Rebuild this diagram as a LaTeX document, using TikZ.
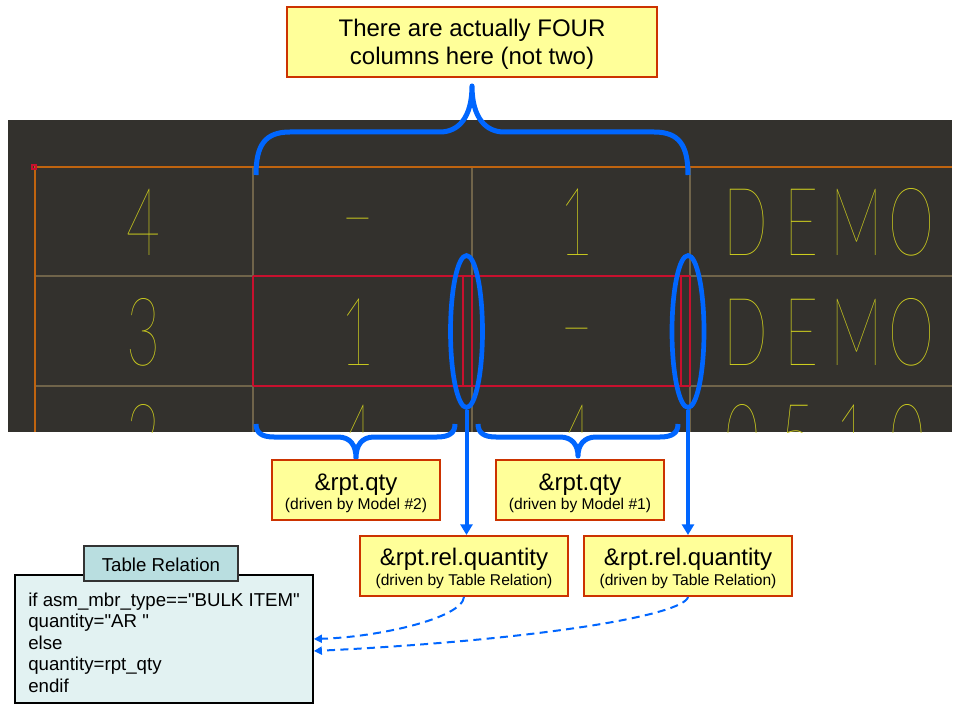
\documentclass[tikz,border=0pt]{standalone}
\usepackage{fontspec}
\setmainfont{Liberation Sans}[Ligatures=TeXOff]
\IfFontExistsTF{Lato Hairline}{\newfontfamily\cadfont{Lato Hairline}[FakeStretch=0.62]}{%
 \IfFontExistsTF{Lato Thin}{\newfontfamily\cadfont{Lato Thin}[FakeStretch=0.62]}{%
  \IfFontExistsTF{Poppins Thin}{\newfontfamily\cadfont{Poppins Thin}[FakeStretch=0.55]}{%
   \IfFontExistsTF{DejaVu Sans ExtraLight}{\newfontfamily\cadfont{DejaVu Sans ExtraLight}[FakeStretch=0.55]}{%
    \newfontfamily\cadfont{Liberation Sans}[FakeStretch=0.6]}}}}
\usetikzlibrary{shapes.geometric,arrows.meta}
\definecolor{cadbg}{RGB}{51,49,45}
\definecolor{cadorange}{RGB}{192,100,15}
\definecolor{cadtan}{RGB}{112,100,74}
\definecolor{cadred}{RGB}{200,16,46}
\definecolor{cadyel}{RGB}{205,205,30}
\definecolor{hlblue}{RGB}{0,102,255}
\definecolor{noteyel}{RGB}{255,255,153}
\definecolor{noteedge}{RGB}{204,51,0}
\definecolor{relfill}{RGB}{226,242,242}
\definecolor{relhead}{RGB}{185,222,224}
\newcommand\cadch[1]{\makebox[41.25pt][c]{#1}}
\newcommand\caddash{\scalebox{1.7}[1]{-}}
\begin{document}
\begin{tikzpicture}[x=0.75pt,y=-0.75pt,
  notebox/.style={draw=noteedge, fill=noteyel, line width=1.5pt, inner sep=0pt},
  bigtxt/.style={anchor=base, inner sep=0pt, font=\fontsize{18}{21}\selectfont},
  subtxt/.style={anchor=base, inner sep=0pt, font=\fontsize{11.7}{14}\selectfont},
  reltxt/.style={anchor=base west, inner sep=0pt, font=\fontsize{14}{16}\selectfont},
  cadtxt/.style={anchor=base, inner sep=0pt, text=cadyel, font={\fontsize{71}{71}\cadfont}},
  cadrow/.style={cadtxt, anchor=base west},
  tanline/.style={draw=cadtan, line width=0.9pt},
  redline/.style={draw=cadred, line width=0.9pt},
  hlbrace/.style={draw=hlblue, line width=3.75pt, line join=round},
  hlring/.style={ellipse, draw=hlblue, line width=3.5pt, inner sep=0pt, minimum width=24pt, minimum height=114pt},
  hlarrow/.style={draw=hlblue, line width=3pt, -{Triangle[length=8pt,width=9pt]}},
  dasharrow/.style={draw=hlblue, line width=1.5pt, dash pattern=on 6pt off 4pt, -{Triangle[length=6pt,width=6pt]}}
]
\useasboundingbox (0,0) rectangle (960,720);
\fill[white] (0,0) rectangle (960,720);

% CAD table
\fill[cadbg] (8,120) rectangle (952,432);
\begin{scope}
  \clip (8,120) rectangle (952,432);
  \draw[tanline] (35,276) -- (952,276);
  \draw[tanline] (35,386) -- (952,386);
  \draw[tanline] (253,167) -- (253,432);
  \draw[tanline] (472,167) -- (472,432);
  \draw[tanline] (690,167) -- (690,432);
  \draw[redline] (253,276) -- (690,276);
  \draw[redline] (253,386) -- (690,386);
  \draw[redline] (253,276) -- (253,386);
  \draw[redline] (463,276) -- (463,386);
  \draw[redline] (472,276) -- (472,386);
  \draw[redline] (681,276) -- (681,386);
  \draw[redline] (690,276) -- (690,386);
  \draw[draw=cadorange, line width=1.1pt] (35,432) -- (35,167) -- (952,167);
  \draw[draw=cadred, line width=0.8pt] (32,165) rectangle (36,169);

  \node[cadtxt] (c11) at (144,256) {4};
  \node[cadtxt] (c12) at (358,247) {\caddash};
  \node[cadtxt] (c13) at (577,256) {1};
  \node[cadrow] (c14) at (718.5,256) {\cadch{D}\cadch{E}\cadch{M}\cadch{O}};
  \node[cadtxt] (c21) at (144,365) {3};
  \node[cadtxt] (c22) at (358,365) {1};
  \node[cadtxt] (c23) at (577,356) {\caddash};
  \node[cadrow] (c24) at (718.5,365) {\cadch{D}\cadch{E}\cadch{M}\cadch{O}};
  \node[cadtxt] (c31) at (144,471) {2};
  \node[cadtxt] (c32) at (358,471) {4};
  \node[cadtxt] (c33) at (577,471) {4};
  \node[cadrow] (c34) at (715,471) {\cadch{0}\cadch{5}\cadch{1}\cadch{0}};
\end{scope}

% callout
\node[notebox, minimum width=277.5pt, minimum height=52.5pt] (call) at (472,42) {};
\node[bigtxt] (callA) at (472,37) {There are actually FOUR};
\node[bigtxt] (callB) at (472,65) {columns here (not two)};

% braces
\draw[hlbrace] (256,175) .. controls (256,145) and (265,132) .. (290,132) -- (440,132)
  .. controls (458,132) and (472,118) .. (472,86)
  .. controls (472,118) and (486,132) .. (504,132) -- (654,132)
  .. controls (679,132) and (688,145) .. (688,175);
\draw[hlbrace] (256,424) .. controls (256,433) and (262,437) .. (274,437) -- (338,437)
  .. controls (350,437) and (356,445) .. (356,458)
  .. controls (356,445) and (362,437) .. (374,437) -- (437,437)
  .. controls (449,437) and (455,433) .. (455,424);
\draw[hlbrace] (478,424) .. controls (478,433) and (484,437) .. (496,437) -- (560,437)
  .. controls (572,437) and (578,445) .. (578,456)
  .. controls (578,445) and (584,437) .. (596,437) -- (660,437)
  .. controls (672,437) and (678,433) .. (678,424);

% ellipses
\node[hlring] (e1) at (466.5,331.5) {};
\node[hlring] (e2) at (688,331.5) {};

% qty boxes
\node[notebox, minimum width=126pt, minimum height=45pt] (q1) at (356,490) {};
\node[bigtxt] (q1a) at (356,490) {\&rpt.qty};
\node[subtxt] (q1b) at (356,509.5) {(driven by Model \#2)};
\node[notebox, minimum width=126pt, minimum height=45pt] (q2) at (580,490) {};
\node[bigtxt] (q2a) at (580,490) {\&rpt.qty};
\node[subtxt] (q2b) at (580,509.5) {(driven by Model \#1)};

% rel boxes
\node[notebox, minimum width=156pt, minimum height=45pt] (r1) at (464,566) {};
\node[bigtxt] (r1a) at (464,565) {\&rpt.rel.quantity};
\node[subtxt] (r1b) at (464,585) {(driven by Table Relation)};
\node[notebox, minimum width=156pt, minimum height=45pt] (r2) at (688,566) {};
\node[bigtxt] (r2a) at (688,565) {\&rpt.rel.quantity};
\node[subtxt] (r2b) at (688,585) {(driven by Table Relation)};

% arrows from ellipses
\draw[hlarrow] (e1.south) -- (e1.south |- r1.north);
\draw[hlarrow] (e2.south) -- (e2.south |- r2.north);

% table relation box
\node[draw=black, fill=relfill, line width=1.3pt, inner sep=0pt, minimum width=223.5pt, minimum height=96pt] (tr) at (164,639) {};
\node[draw=black!80, fill=relhead, line width=1.3pt, inner sep=0pt, minimum width=115.5pt, minimum height=26.25pt] (trh) at (161,563.5) {};
\node[anchor=base, inner sep=0pt, font=\fontsize{14}{16}\selectfont] (trht) at (161,571) {Table Relation};
\node[reltxt] (l1) at (28,606) {if asm\_mbr\_type=="BULK ITEM"};
\node[reltxt] (l2) at (28,627.5) {quantity="AR "};
\node[reltxt] (l3) at (28,649) {else};
\node[reltxt] (l4) at (28,670.5) {quantity=rpt\_qty};
\node[reltxt] (l5) at (28,692) {endif};

% dashed arrows
\draw[dasharrow] (r1.south) .. controls (462,618) and (380,637) .. (tr.east);
\draw[dasharrow] (r2.south) .. controls (684,615) and (540,640) .. ([yshift=-9pt]tr.east);
\end{tikzpicture}
\end{document}
